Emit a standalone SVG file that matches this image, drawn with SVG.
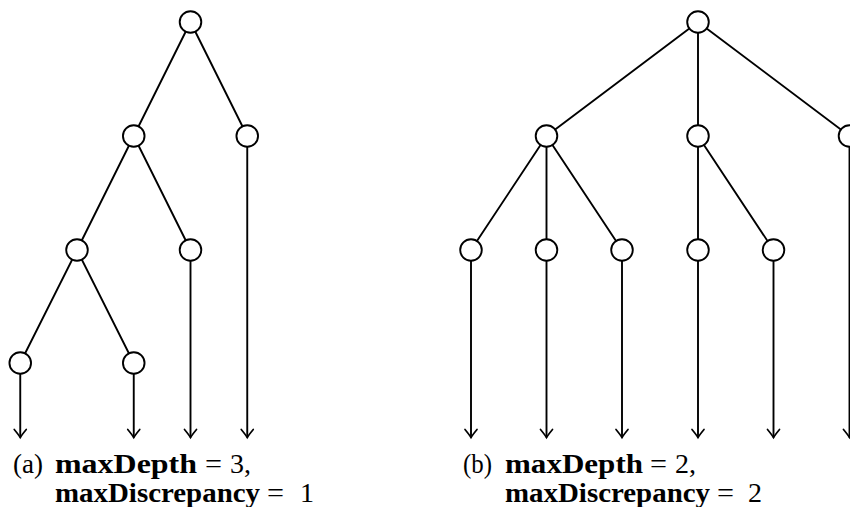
<svg xmlns="http://www.w3.org/2000/svg" width="850" height="507" viewBox="0 0 850 507">
<defs>
<style>
.e{stroke:#000;stroke-width:1.9;fill:none;stroke-linecap:round}
.a{stroke:#000;stroke-width:1.9;fill:none;marker-end:url(#arr)}
.n{fill:#fff;stroke:#000;stroke-width:1.9}
.b{font-weight:bold}
</style>
<marker id="arr" markerUnits="userSpaceOnUse" markerWidth="20" markerHeight="20" viewBox="-12 -10 14 20" refX="0" refY="0" orient="auto">
<path d="M-8,-6 Q-2.5,-1.5 0,0 Q-2.5,1.5 -8,6" fill="none" stroke="#000" stroke-width="1.7" stroke-linecap="round"/>
</marker>
</defs>
<rect width="850" height="507" fill="#fff"/>
<g id="connectors">
<line class="e" x1="190.5" y1="22" x2="133.75" y2="136"/>
<line class="e" x1="190.5" y1="22" x2="247.25" y2="136"/>
<line class="e" x1="133.75" y1="136" x2="77" y2="250"/>
<line class="e" x1="133.75" y1="136" x2="190.5" y2="250"/>
<line class="e" x1="77" y1="250" x2="20.25" y2="363"/>
<line class="e" x1="77" y1="250" x2="133.75" y2="363"/>
<line class="a" x1="20.25" y1="363" x2="20.25" y2="437.5"/>
<line class="a" x1="133.75" y1="363" x2="133.75" y2="437.5"/>
<line class="a" x1="190.5" y1="250" x2="190.5" y2="437.5"/>
<line class="a" x1="247.25" y1="136" x2="247.25" y2="437.5"/>
<line class="e" x1="698" y1="22" x2="546.5" y2="136"/>
<line class="e" x1="698" y1="22" x2="698" y2="136"/>
<line class="e" x1="698" y1="22" x2="849.5" y2="136"/>
<line class="e" x1="546.5" y1="136" x2="471" y2="250"/>
<line class="e" x1="546.5" y1="136" x2="546.5" y2="250"/>
<line class="e" x1="546.5" y1="136" x2="622" y2="250"/>
<line class="e" x1="698" y1="136" x2="698" y2="250"/>
<line class="e" x1="698" y1="136" x2="773.5" y2="250"/>
<line class="a" x1="471" y1="250" x2="471" y2="437.5"/>
<line class="a" x1="546.5" y1="250" x2="546.5" y2="437.5"/>
<line class="a" x1="622" y1="250" x2="622" y2="437.5"/>
<line class="a" x1="698" y1="250" x2="698" y2="437.5"/>
<line class="a" x1="773.5" y1="250" x2="773.5" y2="437.5"/>
<line class="a" x1="849.5" y1="136" x2="849.5" y2="437.5"/>
</g>
<g id="a-root"><circle class="n" cx="190.5" cy="22" r="10.8"/></g>
<g id="a-1"><circle class="n" cx="133.75" cy="136" r="10.8"/></g>
<g id="a-2"><circle class="n" cx="247.25" cy="136" r="10.8"/></g>
<g id="a-11"><circle class="n" cx="77" cy="250" r="10.8"/></g>
<g id="a-12"><circle class="n" cx="190.5" cy="250" r="10.8"/></g>
<g id="a-111"><circle class="n" cx="20.25" cy="363" r="10.8"/></g>
<g id="a-112"><circle class="n" cx="133.75" cy="363" r="10.8"/></g>
<g id="b-root"><circle class="n" cx="698" cy="22" r="10.8"/></g>
<g id="b-1"><circle class="n" cx="546.5" cy="136" r="10.8"/></g>
<g id="b-2"><circle class="n" cx="698" cy="136" r="10.8"/></g>
<g id="b-3"><circle class="n" cx="849.5" cy="136" r="10.8"/></g>
<g id="b-11"><circle class="n" cx="471" cy="250" r="10.8"/></g>
<g id="b-12"><circle class="n" cx="546.5" cy="250" r="10.8"/></g>
<g id="b-13"><circle class="n" cx="622" cy="250" r="10.8"/></g>
<g id="b-21"><circle class="n" cx="698" cy="250" r="10.8"/></g>
<g id="b-22"><circle class="n" cx="773.5" cy="250" r="10.8"/></g>
<g id="caption-a" font-family="'Liberation Serif', 'Times New Roman', serif" font-size="28" fill="#000">
<text x="13" y="473" textLength="30" lengthAdjust="spacingAndGlyphs">(a)</text>
<text class="b" x="55" y="473" textLength="142" lengthAdjust="spacingAndGlyphs">maxDepth</text>
<text x="205" y="473" textLength="17" lengthAdjust="spacingAndGlyphs">=</text>
<text x="230" y="473">3,</text>
<text class="b" x="55" y="502" textLength="205" lengthAdjust="spacingAndGlyphs">maxDiscrepancy</text>
<text x="267" y="502" textLength="17" lengthAdjust="spacingAndGlyphs">=</text>
<text x="300" y="502">1</text>
</g>
<g id="caption-b" font-family="'Liberation Serif', 'Times New Roman', serif" font-size="28" fill="#000">
<text x="463" y="473" textLength="29" lengthAdjust="spacingAndGlyphs">(b)</text>
<text class="b" x="505" y="473" textLength="138" lengthAdjust="spacingAndGlyphs">maxDepth</text>
<text x="650" y="473" textLength="17" lengthAdjust="spacingAndGlyphs">=</text>
<text x="675" y="473">2,</text>
<text class="b" x="505" y="502" textLength="205" lengthAdjust="spacingAndGlyphs">maxDiscrepancy</text>
<text x="717" y="502" textLength="17" lengthAdjust="spacingAndGlyphs">=</text>
<text x="748" y="502">2</text>
</g>
</svg>
